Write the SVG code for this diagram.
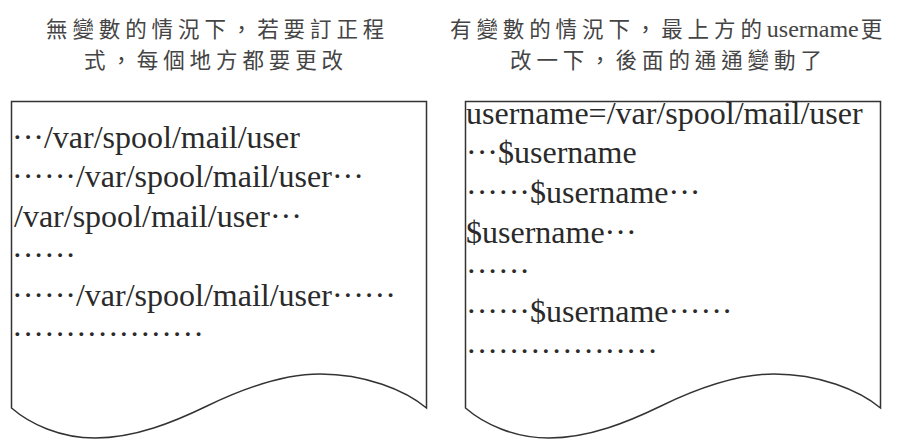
<svg xmlns="http://www.w3.org/2000/svg" width="898" height="440" viewBox="0 0 898 440">
<style>
.title{font-family:"Noto Sans CJK TC","Noto Sans CJK SC",sans-serif;font-size:21.5px;letter-spacing:4.9px;fill:#444}
.lat{font-family:"Liberation Serif",serif;font-size:24px;letter-spacing:0}
.doc{fill:#fff;stroke:#333;stroke-width:1.5}
.code{font-family:"Liberation Serif",serif;font-size:32px;fill:#2a2a2a}
.d{letter-spacing:0}
</style>
<defs>
<path id="docShape" d="M11.5,408 L11.5,101.5 L426.5,101.5 L426.5,408 C405,390 365,374 320,374 C280,374 240,390 207,406 C174,422 135,438 95,438 C60,438 30,424 11.5,408 Z"/>
</defs>
<g id="title-left">
<text class="title" x="46" y="36.5">無變數的情況下，若要訂正程</text>
<text class="title" x="84" y="67.5">式，每個地方都要更改</text>
</g>
<g id="title-right">
<text class="title" x="450" y="36.5">有變數的情況下，最上方的<tspan class="lat">username</tspan><tspan dx="2">更</tspan></text>
<text class="title" x="510" y="67.5">改一下，後面的通通變動了</text>
</g>
<g id="doc-left">
<use href="#docShape" class="doc"/>
<text class="code" x="12" y="148"><tspan class="d">···</tspan>/var/spool/mail/user</text>
<text class="code" x="12" y="187.4"><tspan class="d">······</tspan>/var/spool/mail/user<tspan class="d">···</tspan></text>
<text class="code" x="14" y="226.8">/var/spool/mail/user<tspan class="d">···</tspan></text>
<text class="code" x="12" y="266.2"><tspan class="d">······</tspan></text>
<text class="code" x="12" y="305.6"><tspan class="d">······</tspan>/var/spool/mail/user<tspan class="d">······</tspan></text>
<text class="code" x="12" y="345"><tspan class="d">··················</tspan></text>
</g>
<g id="doc-right">
<use href="#docShape" class="doc" transform="translate(454,0)"/>
<text class="code" x="466" y="123.5">username=/var/spool/mail/user</text>
<text class="code" x="466" y="163"><tspan class="d">···</tspan>$username</text>
<text class="code" x="466" y="203"><tspan class="d">······</tspan>$username<tspan class="d">···</tspan></text>
<text class="code" x="466" y="242.5">$username<tspan class="d">···</tspan></text>
<text class="code" x="466" y="282"><tspan class="d">······</tspan></text>
<text class="code" x="466" y="322"><tspan class="d">······</tspan>$username<tspan class="d">······</tspan></text>
<text class="code" x="466" y="361.5"><tspan class="d">··················</tspan></text>
</g>
<g id="connectors"></g>
</svg>
